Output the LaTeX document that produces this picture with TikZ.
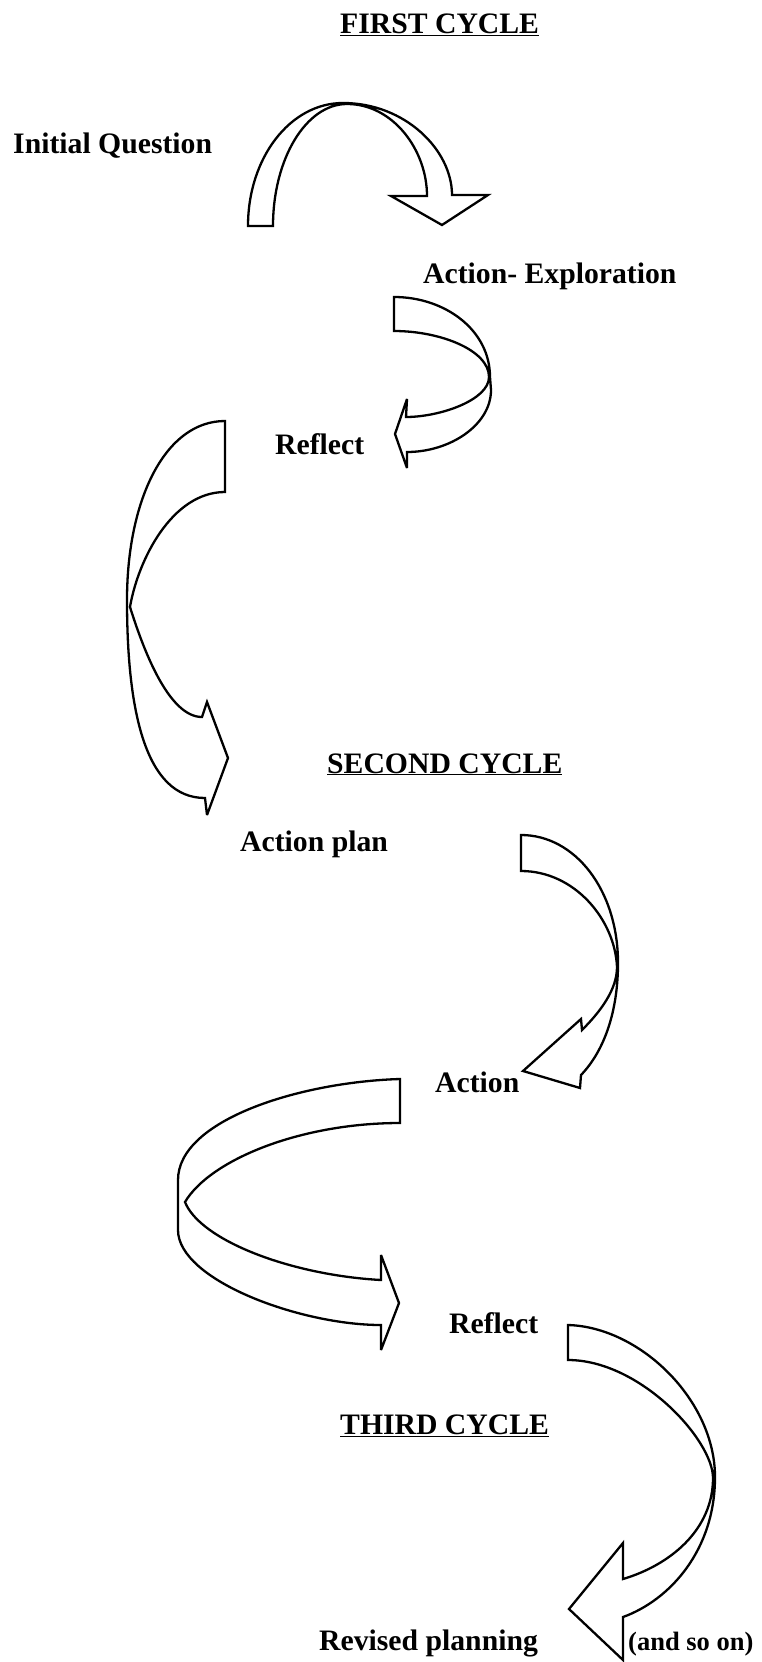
\documentclass[tikz,border=0pt]{standalone}
\usepackage{fontspec}
\setmainfont{Liberation Serif}
\begin{document}
\begin{tikzpicture}[x=1pt,y=-1pt,
  ribbon/.style={draw=black, line width=2.3pt, fill=white, line join=miter, miter limit=4},
  lbl/.style={anchor=base west, inner sep=0pt, font=\bfseries\fontsize{29.7}{36}\selectfont},
  small/.style={anchor=base west, inner sep=0pt, font=\bfseries\fontsize{26.5}{32}\selectfont}]
\useasboundingbox (0,0) rectangle (761,1662);

% texts
\node[lbl] (first) at (340,34) {\underline{FIRST CYCLE}};
\node[lbl] (iq) at (13,153) {Initial Question};
\node[lbl] (ae) at (423,283) {Action- Exploration};
\node[lbl] (r1) at (275,454) {Reflect};
\node[lbl] (second) at (327,773) {\underline{SECOND CYCLE}};
\node[lbl] (ap) at (240,851) {Action plan};
\node[lbl] (act) at (435,1092) {Action};
\node[lbl] (r2) at (449,1333) {Reflect};
\node[lbl] (third) at (340,1434) {\underline{THIRD CYCLE}};
\node[lbl] (rp) at (319,1650) {Revised planning};
\node[small] (soon) at (628,1650) {(and so on)};

% arrow 1
\path[ribbon] (248,226) .. controls (248,158) and (290,103) .. (343,103)
  .. controls (405,103) and (452,150) .. (452,195) -- (488,195) -- (442,225) -- (391,196) -- (427,196)
  .. controls (427,150) and (393,104) .. (347,104)
  .. controls (306,104) and (273,159) .. (273,226) -- cycle;

% arrow 2
\path[ribbon] (394,297) .. controls (445,297) and (490,330) .. (490,377) -- (491,390)
  .. controls (491,425) and (450,452) .. (407,452) -- (407,468) -- (395,434) -- (407,399) -- (406,417)
  .. controls (440,417) and (489,400) .. (489,377)
  .. controls (489,350) and (440,331) .. (394,331) -- cycle;

% arrow 3
\path[ribbon] (225,421) .. controls (165,421) and (127,500) .. (127,600)
  .. controls (127,710) and (145,798) .. (205,798) -- (207,815) -- (228,758) -- (207,702) -- (202,717)
  .. controls (170,717) and (145,655) .. (130,607)
  .. controls (138,560) and (172,492) .. (225,492) -- cycle;

% arrow 4
\path[ribbon] (521,835) .. controls (575,835) and (618,890) .. (618,963)
  .. controls (618,1010) and (605,1050) .. (581,1075) -- (580,1088) -- (523,1071) -- (581,1019) -- (582,1030)
  .. controls (600,1012) and (617,990) .. (617,967)
  .. controls (615,920) and (575,871) .. (521,871) -- cycle;

% arrow 5
\path[ribbon] (400,1079) .. controls (300,1082) and (178,1120) .. (178,1180) -- (178,1230)
  .. controls (178,1280) and (300,1325) .. (381,1325) -- (381,1350) -- (399,1303) -- (381,1255) -- (381,1280)
  .. controls (290,1275) and (200,1240) .. (185,1202)
  .. controls (210,1160) and (300,1123) .. (400,1123) -- cycle;

% arrow 6
\path[ribbon] (568,1325) .. controls (640,1327) and (715,1400) .. (715,1477)
  .. controls (715,1550) and (670,1600) .. (623,1617) -- (623,1660) -- (569,1609) -- (623,1543) -- (623,1579)
  .. controls (670,1565) and (713,1530) .. (713,1478)
  .. controls (713,1440) and (640,1360) .. (568,1360) -- cycle;
\end{tikzpicture}
\end{document}
